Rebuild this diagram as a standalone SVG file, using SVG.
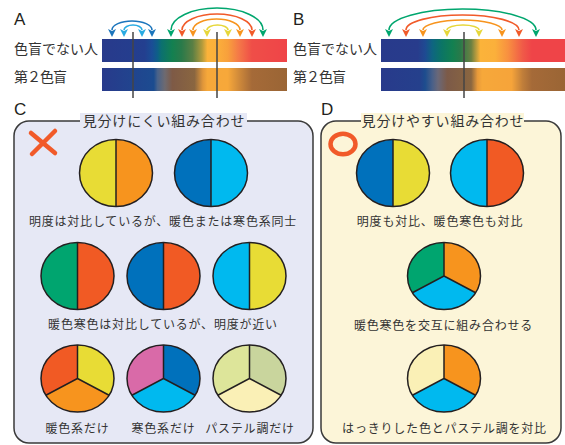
<svg xmlns="http://www.w3.org/2000/svg" width="565" height="445" viewBox="0 0 565 445">
<style>
.jp{font-family:"Noto Sans CJK JP","Noto Sans CJK SC",sans-serif;fill:#333}
.lbl{font-family:"Liberation Sans",Arial,sans-serif;font-size:17px;fill:#231f20}
.row{font-size:14px}
.ttl{font-size:14px;letter-spacing:0.8px;text-anchor:middle}
.cap{font-size:12px;letter-spacing:0.8px;text-anchor:middle}
.ol{fill:none;stroke:#231f20;stroke-width:1.5}
.vl{stroke:#444;stroke-width:1.5}
.arc{fill:none;stroke-width:1.6}
.panel{stroke:#3a3a3a;stroke-width:1.5}
</style>
<defs>
<linearGradient id="gA1" x1="0" y1="0" x2="1" y2="0">
<stop offset="0" stop-color="#283a8b"/><stop offset="0.23" stop-color="#233f8f"/><stop offset="0.27" stop-color="#1a4d96"/><stop offset="0.30" stop-color="#0e5f88"/><stop offset="0.32" stop-color="#0b7070"/><stop offset="0.38" stop-color="#138050"/><stop offset="0.43" stop-color="#2a7a4a"/><stop offset="0.49" stop-color="#5a7f44"/><stop offset="0.54" stop-color="#b09a3c"/><stop offset="0.57" stop-color="#fbb33a"/><stop offset="0.62" stop-color="#fbb03b"/><stop offset="0.68" stop-color="#f8a03c"/><stop offset="0.74" stop-color="#f47848"/><stop offset="0.81" stop-color="#ef4e48"/><stop offset="1" stop-color="#ef4448"/>
</linearGradient>
<linearGradient id="gA2" x1="0" y1="0" x2="1" y2="0">
<stop offset="0" stop-color="#283a8b"/><stop offset="0.26" stop-color="#1d4a90"/><stop offset="0.28" stop-color="#1b4c8f"/><stop offset="0.30" stop-color="#48628a"/><stop offset="0.34" stop-color="#6e6a70"/><stop offset="0.38" stop-color="#7e5a46"/><stop offset="0.50" stop-color="#8a6640"/><stop offset="0.545" stop-color="#e0963a"/><stop offset="0.57" stop-color="#f6a83a"/><stop offset="0.68" stop-color="#f7a83a"/><stop offset="0.74" stop-color="#d08a3a"/><stop offset="0.81" stop-color="#a56a38"/><stop offset="1" stop-color="#9a6535"/>
</linearGradient>
<linearGradient id="gB1" x1="0" y1="0" x2="1" y2="0">
<stop offset="0" stop-color="#283a8b"/><stop offset="0.20" stop-color="#283c8c"/><stop offset="0.24" stop-color="#1e4a92"/><stop offset="0.28" stop-color="#0e6580"/><stop offset="0.33" stop-color="#0b7565"/><stop offset="0.39" stop-color="#138050"/><stop offset="0.43" stop-color="#287a4a"/><stop offset="0.49" stop-color="#6a8042"/><stop offset="0.54" stop-color="#fbb33a"/><stop offset="0.62" stop-color="#fbb03b"/><stop offset="0.69" stop-color="#f89040"/><stop offset="0.77" stop-color="#f05a48"/><stop offset="0.82" stop-color="#ef4448"/><stop offset="1" stop-color="#ef4448"/>
</linearGradient>
<linearGradient id="gB2" x1="0" y1="0" x2="1" y2="0">
<stop offset="0" stop-color="#283a8b"/><stop offset="0.21" stop-color="#25408c"/><stop offset="0.24" stop-color="#1d4d8e"/><stop offset="0.28" stop-color="#4a6088"/><stop offset="0.31" stop-color="#6a6878"/><stop offset="0.36" stop-color="#7c5a48"/><stop offset="0.49" stop-color="#8a6640"/><stop offset="0.525" stop-color="#e89a3a"/><stop offset="0.55" stop-color="#f6a83a"/><stop offset="0.71" stop-color="#f6a43a"/><stop offset="0.77" stop-color="#c07e3a"/><stop offset="0.82" stop-color="#a56a38"/><stop offset="1" stop-color="#9a6535"/>
</linearGradient>
<marker id="mBl" viewBox="0 0 8 8" refX="1" refY="4" markerWidth="8" markerHeight="8" markerUnits="userSpaceOnUse" orient="auto-start-reverse"><path d="M0,0 L8,4 L0,8 L2,4 Z" fill="#1b75bc"/></marker>
<marker id="mLb" viewBox="0 0 8 8" refX="1" refY="4" markerWidth="8" markerHeight="8" markerUnits="userSpaceOnUse" orient="auto-start-reverse"><path d="M0,0 L8,4 L0,8 L2,4 Z" fill="#29abe2"/></marker>
<marker id="mGr" viewBox="0 0 8 8" refX="1" refY="4" markerWidth="8" markerHeight="8" markerUnits="userSpaceOnUse" orient="auto-start-reverse"><path d="M0,0 L8,4 L0,8 L2,4 Z" fill="#00a66e"/></marker>
<marker id="mRd" viewBox="0 0 8 8" refX="1" refY="4" markerWidth="8" markerHeight="8" markerUnits="userSpaceOnUse" orient="auto-start-reverse"><path d="M0,0 L8,4 L0,8 L2,4 Z" fill="#f15a29"/></marker>
<marker id="mOr" viewBox="0 0 8 8" refX="1" refY="4" markerWidth="8" markerHeight="8" markerUnits="userSpaceOnUse" orient="auto-start-reverse"><path d="M0,0 L8,4 L0,8 L2,4 Z" fill="#f7941d"/></marker>
<marker id="mYe" viewBox="0 0 8 8" refX="1" refY="4" markerWidth="8" markerHeight="8" markerUnits="userSpaceOnUse" orient="auto-start-reverse"><path d="M0,0 L8,4 L0,8 L2,4 Z" fill="#e6d73a"/></marker>
</defs>

<rect x="0" y="0" width="565" height="445" fill="#fff"/>

<!-- Section A -->
<g id="sectionA">
<text class="lbl" x="14" y="25">A</text>
<text class="jp row" x="14" y="54">色盲でない人</text>
<text class="jp row" x="14" y="82" letter-spacing="-1">第２色盲</text>
<rect x="102" y="39" width="185" height="23" fill="url(#gA1)"/>
<rect x="102" y="68" width="185" height="23" fill="url(#gA2)"/>
</g>

<!-- Section B -->
<g id="sectionB">
<text class="lbl" x="293" y="25">B</text>
<text class="jp row" x="293" y="54">色盲でない人</text>
<text class="jp row" x="293" y="82" letter-spacing="-1">第２色盲</text>
<rect x="381" y="39" width="184" height="23" fill="url(#gB1)"/>
<rect x="381" y="68" width="184" height="23" fill="url(#gB2)"/>
</g>

<g id="connectors">
<path class="arc" stroke="#1b75bc" marker-start="url(#mBl)" marker-end="url(#mBl)" d="M112,30 A20,9 0 0 1 152,30"/>
<path class="arc" stroke="#29abe2" marker-start="url(#mLb)" marker-end="url(#mLb)" d="M124,30 A9,5 0 0 1 142,30"/>
<path class="arc" stroke="#00a66e" marker-start="url(#mGr)" marker-end="url(#mGr)" d="M171,30 A46,22 0 0 1 263,30"/>
<path class="arc" stroke="#f15a29" marker-start="url(#mRd)" marker-end="url(#mRd)" d="M182,30 A35,16 0 0 1 252,30"/>
<path class="arc" stroke="#f7941d" marker-start="url(#mOr)" marker-end="url(#mOr)" d="M193,30 A23.5,11 0 0 1 240,30"/>
<path class="arc" stroke="#e6d73a" marker-start="url(#mYe)" marker-end="url(#mYe)" d="M207,30 A10.5,5 0 0 1 228,30"/>
<path class="arc" stroke="#00a66e" marker-start="url(#mGr)" marker-end="url(#mGr)" d="M389,30 A73.5,21 0 0 1 536,30"/>
<path class="arc" stroke="#f15a29" marker-start="url(#mRd)" marker-end="url(#mRd)" d="M406,30 A56.5,15 0 0 1 519,30"/>
<path class="arc" stroke="#f7941d" marker-start="url(#mOr)" marker-end="url(#mOr)" d="M423,30 A39.5,10 0 0 1 502,30"/>
<path class="arc" stroke="#e6d73a" marker-start="url(#mYe)" marker-end="url(#mYe)" d="M447,30 A16,5 0 0 1 479,30"/>
<line class="vl" x1="133" y1="32" x2="133" y2="98"/>
<line class="vl" x1="217" y1="32" x2="217" y2="98"/>
<line class="vl" x1="464" y1="32" x2="464" y2="98"/>
</g>

<!-- Panel C -->
<g id="panelC">
<text class="lbl" x="14" y="115">C</text>
<rect class="panel" x="14" y="121" width="299" height="322" rx="15" ry="15" fill="#e6e8f5"/>
<rect x="80" y="113" width="167" height="15" fill="#e6e8f5"/>
<text class="jp ttl" x="164" y="126">見分けにくい組み合わせ</text>
<path d="M31,133 L55,153 M55,131 L32,154" stroke="#f15a29" stroke-width="4.5" stroke-linecap="round" fill="none"/>
</g>

<g id="c1" transform="translate(116,173)">
<path d="M0,-33.5 A36.5,33.5 0 0 0 0,33.5 Z" fill="#e8dc35"/>
<path d="M0,-33.5 A36.5,33.5 0 0 1 0,33.5 Z" fill="#f7941e"/>
<ellipse class="ol" rx="36.5" ry="33.5"/><path class="ol" d="M0,-33.5 V33.5"/>
</g>
<g id="c2" transform="translate(211,173)">
<path d="M0,-33.5 A36.5,33.5 0 0 0 0,33.5 Z" fill="#0071bc"/>
<path d="M0,-33.5 A36.5,33.5 0 0 1 0,33.5 Z" fill="#00b9ef"/>
<ellipse class="ol" rx="36.5" ry="33.5"/><path class="ol" d="M0,-33.5 V33.5"/>
</g>
<text class="jp cap" x="163" y="226">明度は対比しているが、暖色または寒色系同士</text>

<g id="c3" transform="translate(77.5,276)">
<path d="M0,-33.5 A36.5,33.5 0 0 0 0,33.5 Z" fill="#00a56f"/>
<path d="M0,-33.5 A36.5,33.5 0 0 1 0,33.5 Z" fill="#f15a24"/>
<ellipse class="ol" rx="36.5" ry="33.5"/><path class="ol" d="M0,-33.5 V33.5"/>
</g>
<g id="c4" transform="translate(163.5,276)">
<path d="M0,-33.5 A36.5,33.5 0 0 0 0,33.5 Z" fill="#0071bc"/>
<path d="M0,-33.5 A36.5,33.5 0 0 1 0,33.5 Z" fill="#f15a24"/>
<ellipse class="ol" rx="36.5" ry="33.5"/><path class="ol" d="M0,-33.5 V33.5"/>
</g>
<g id="c5" transform="translate(249.5,276)">
<path d="M0,-33.5 A36.5,33.5 0 0 0 0,33.5 Z" fill="#00b9ef"/>
<path d="M0,-33.5 A36.5,33.5 0 0 1 0,33.5 Z" fill="#e8dc35"/>
<ellipse class="ol" rx="36.5" ry="33.5"/><path class="ol" d="M0,-33.5 V33.5"/>
</g>
<text class="jp cap" x="163" y="329">暖色寒色は対比しているが、明度が近い</text>

<g id="c6" transform="translate(77.5,378.5)">
<path d="M0,0 L0,-33.5 A36.5,33.5 0 0 0 -31.61,16.75 Z" fill="#f15a24"/>
<path d="M0,0 L0,-33.5 A36.5,33.5 0 0 1 31.61,16.75 Z" fill="#e8dc35"/>
<path d="M0,0 L-31.61,16.75 A36.5,33.5 0 0 0 31.61,16.75 Z" fill="#f7941e"/>
<ellipse class="ol" rx="36.5" ry="33.5"/><path class="ol" d="M0,-33.5 V0 L-31.61,16.75 M0,0 L31.61,16.75"/>
</g>
<g id="c7" transform="translate(163.5,378.5)">
<path d="M0,0 L0,-33.5 A36.5,33.5 0 0 0 -31.61,16.75 Z" fill="#d96aa8"/>
<path d="M0,0 L0,-33.5 A36.5,33.5 0 0 1 31.61,16.75 Z" fill="#0071bc"/>
<path d="M0,0 L-31.61,16.75 A36.5,33.5 0 0 0 31.61,16.75 Z" fill="#00b9ef"/>
<ellipse class="ol" rx="36.5" ry="33.5"/><path class="ol" d="M0,-33.5 V0 L-31.61,16.75 M0,0 L31.61,16.75"/>
</g>
<g id="c8" transform="translate(249.5,378.5)">
<path d="M0,0 L0,-33.5 A36.5,33.5 0 0 0 -31.61,16.75 Z" fill="#dde59a"/>
<path d="M0,0 L0,-33.5 A36.5,33.5 0 0 1 31.61,16.75 Z" fill="#c9d59d"/>
<path d="M0,0 L-31.61,16.75 A36.5,33.5 0 0 0 31.61,16.75 Z" fill="#faf0b6"/>
<ellipse class="ol" rx="36.5" ry="33.5"/><path class="ol" d="M0,-33.5 V0 L-31.61,16.75 M0,0 L31.61,16.75"/>
</g>
<text class="jp cap" x="77.5" y="433">暖色系だけ</text>
<text class="jp cap" x="163.5" y="433">寒色系だけ</text>
<text class="jp cap" x="250" y="433">パステル調だけ</text>

<!-- Panel D -->
<g id="panelD">
<text class="lbl" x="321" y="115">D</text>
<rect class="panel" x="321" y="121" width="240" height="322" rx="15" ry="15" fill="#fcf5d8"/>
<rect x="361" y="113" width="163" height="15" fill="#fcf5d8"/>
<text class="jp ttl" x="443" y="126">見分けやすい組み合わせ</text>
<ellipse cx="343" cy="144" rx="12.5" ry="10.3" fill="none" stroke="#f15a29" stroke-width="4.5"/>
</g>

<g id="d1" transform="translate(393,173)">
<path d="M0,-33.5 A36.5,33.5 0 0 0 0,33.5 Z" fill="#0071bc"/>
<path d="M0,-33.5 A36.5,33.5 0 0 1 0,33.5 Z" fill="#e8dc35"/>
<ellipse class="ol" rx="36.5" ry="33.5"/><path class="ol" d="M0,-33.5 V33.5"/>
</g>
<g id="d2" transform="translate(487,173)">
<path d="M0,-33.5 A36.5,33.5 0 0 0 0,33.5 Z" fill="#00b9ef"/>
<path d="M0,-33.5 A36.5,33.5 0 0 1 0,33.5 Z" fill="#f15a24"/>
<ellipse class="ol" rx="36.5" ry="33.5"/><path class="ol" d="M0,-33.5 V33.5"/>
</g>
<text class="jp cap" x="440" y="226">明度も対比、暖色寒色も対比</text>

<g id="d3" transform="translate(444,276)">
<path d="M0,0 L0,-33.5 A36.5,33.5 0 0 0 -31.61,16.75 Z" fill="#00a56f"/>
<path d="M0,0 L0,-33.5 A36.5,33.5 0 0 1 31.61,16.75 Z" fill="#f7941e"/>
<path d="M0,0 L-31.61,16.75 A36.5,33.5 0 0 0 31.61,16.75 Z" fill="#00b9ef"/>
<ellipse class="ol" rx="36.5" ry="33.5"/><path class="ol" d="M0,-33.5 V0 L-31.61,16.75 M0,0 L31.61,16.75"/>
</g>
<text class="jp cap" x="443.5" y="330">暖色寒色を交互に組み合わせる</text>

<g id="d4" transform="translate(444,378.5)">
<path d="M0,0 L0,-33.5 A36.5,33.5 0 0 0 -31.61,16.75 Z" fill="#faf0b6"/>
<path d="M0,0 L0,-33.5 A36.5,33.5 0 0 1 31.61,16.75 Z" fill="#f7941e"/>
<path d="M0,0 L-31.61,16.75 A36.5,33.5 0 0 0 31.61,16.75 Z" fill="#00b9ef"/>
<ellipse class="ol" rx="36.5" ry="33.5"/><path class="ol" d="M0,-33.5 V0 L-31.61,16.75 M0,0 L31.61,16.75"/>
</g>
<text class="jp cap" x="444.5" y="433">はっきりした色とパステル調を対比</text>
</svg>
